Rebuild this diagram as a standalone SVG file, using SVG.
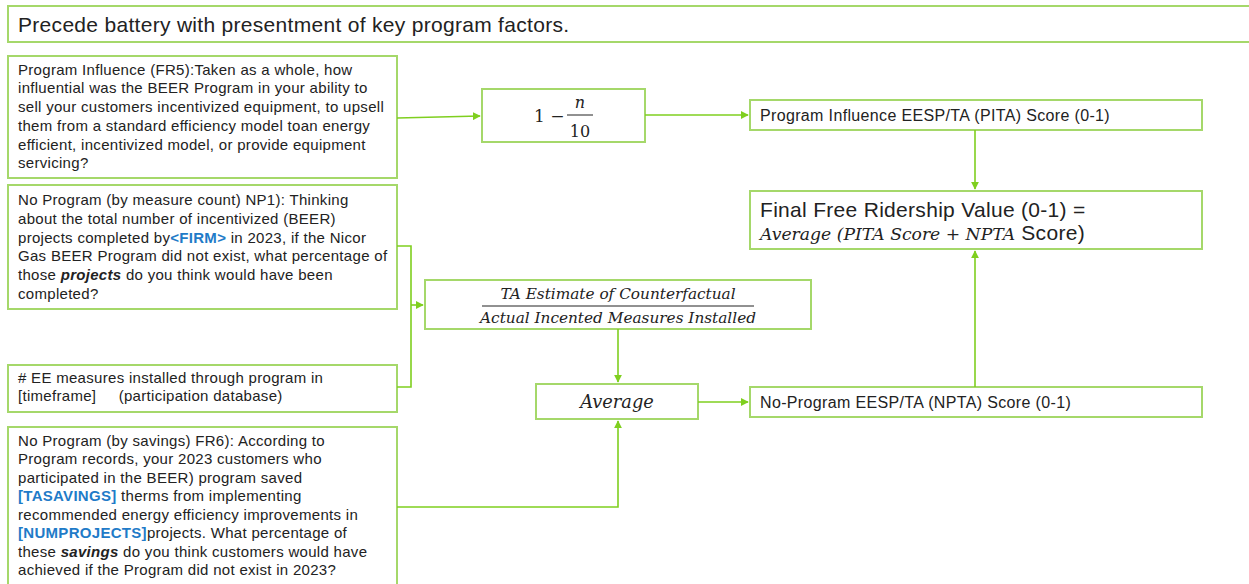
<svg xmlns="http://www.w3.org/2000/svg" width="1249" height="584" viewBox="0 0 1249 584">
<style>
.box{fill:#fff;stroke:#a5d86a;stroke-width:2}
.t{font-family:"Liberation Sans",Arial,sans-serif;font-size:15px;letter-spacing:0.3px;fill:#222}
.s{font-family:"Liberation Sans",Arial,sans-serif;font-size:16px;letter-spacing:0.35px;fill:#222}
.big{font-family:"Liberation Sans",Arial,sans-serif;font-size:21px;letter-spacing:0.3px;fill:#222}
.m{font-family:"DejaVu Serif","Liberation Serif",serif;font-style:italic;fill:#222}
.mu{font-family:"DejaVu Serif","Liberation Serif",serif;fill:#222}
.ph{fill:#1f7bc8;font-weight:bold}
.c{fill:none;stroke:#7fcf1f;stroke-width:1.6}
</style>
<defs>
<marker id="ah" viewBox="0 0 10 10" refX="9" refY="5" markerWidth="5" markerHeight="5" orient="auto" markerUnits="strokeWidth">
<path d="M0,0 L10,5 L0,10 z" fill="#7fcf1f"/>
</marker>
</defs>
<rect width="1249" height="584" fill="#fff"/>

<g id="title">
<rect class="box" x="8" y="6" width="1250" height="36"/>
<text class="big" x="18" y="32">Precede battery with presentment of key program factors.</text>
</g>

<g id="q-fr5">
<rect class="box" x="8" y="56" width="389" height="122"/>
<text class="t" x="18" y="75">Program Influence (FR5):Taken as a whole, how</text>
<text class="t" x="18" y="93">influential was the BEER Program in your ability to</text>
<text class="t" x="18" y="112">sell your customers incentivized equipment, to upsell</text>
<text class="t" x="18" y="131">them from a standard efficiency model toan energy</text>
<text class="t" x="18" y="150">efficient, incentivized model, or provide equipment</text>
<text class="t" x="18" y="168">servicing?</text>
</g>

<g id="q-np1">
<rect class="box" x="8" y="185" width="389" height="124"/>
<text class="t" x="18" y="205">No Program (by measure count) NP1): Thinking</text>
<text class="t" x="18" y="224">about the total number of incentivized (BEER)</text>
<text class="t" x="18" y="243">projects completed by<tspan class="ph">&lt;FIRM&gt;</tspan> in 2023, if the Nicor</text>
<text class="t" x="18" y="261">Gas BEER Program did not exist, what percentage of</text>
<text class="t" x="18" y="280">those <tspan font-weight="bold" font-style="italic">projects</tspan> do you think would have been</text>
<text class="t" x="18" y="299">completed?</text>
</g>

<g id="ee-measures">
<rect class="box" x="8" y="365" width="389" height="47"/>
<text class="t" x="18" y="383"># EE measures installed through program in</text>
<text class="t" x="18" y="401" xml:space="preserve">[timeframe]     (participation database)</text>
</g>

<g id="q-fr6">
<rect class="box" x="8" y="427" width="389" height="165"/>
<text class="t" x="18" y="446">No Program (by savings) FR6): According to</text>
<text class="t" x="18" y="464">Program records, your 2023 customers who</text>
<text class="t" x="18" y="483">participated in the BEER) program saved</text>
<text class="t" x="18" y="501"><tspan class="ph">[TASAVINGS]</tspan> therms from implementing</text>
<text class="t" x="18" y="520">recommended energy efficiency improvements in</text>
<text class="t" x="18" y="538"><tspan class="ph">[NUMPROJECTS]</tspan>projects. What percentage of</text>
<text class="t" x="18" y="557">these <tspan font-weight="bold" font-style="italic">savings</tspan> do you think customers would have</text>
<text class="t" x="18" y="575">achieved if the Program did not exist in 2023?</text>
</g>

<g id="formula-pi">
<rect class="box" x="482" y="89" width="163" height="53"/>
<text class="mu" x="534" y="122" font-size="17">1 −</text>
<text class="m" x="580" y="108" font-size="16" text-anchor="middle">n</text>
<line x1="567" y1="115" x2="593" y2="115" stroke="#222" stroke-width="1"/>
<text class="mu" x="580" y="137" font-size="16" text-anchor="middle">10</text>
</g>

<g id="pita">
<rect class="box" x="750" y="100" width="452" height="30"/>
<text class="s" x="760" y="121">Program Influence EESP/TA (PITA) Score (0-1)</text>
</g>

<g id="final">
<rect class="box" x="750" y="191" width="452" height="58"/>
<text class="big" x="760" y="217" font-size="19" letter-spacing="0">Final Free Ridership Value (0-1) =</text>
<text x="760" y="240"><tspan class="m" font-size="17.2">Average (PITA Score + NPTA</tspan><tspan class="big" font-size="19" letter-spacing="0"> Score)</tspan></text>
</g>

<g id="ta-ratio">
<rect class="box" x="425" y="280" width="386" height="49"/>
<text class="m" x="618" y="299" font-size="15.3" text-anchor="middle">TA Estimate of Counterfactual</text>
<line x1="482" y1="306" x2="754" y2="306" stroke="#222" stroke-width="1"/>
<text class="m" x="618" y="323" font-size="15.3" text-anchor="middle">Actual Incented Measures Installed</text>
</g>

<g id="average">
<rect class="box" x="536" y="384" width="162" height="35"/>
<text class="m" x="617" y="408" font-size="17.8" text-anchor="middle">Average</text>
</g>

<g id="npta">
<rect class="box" x="750" y="387" width="452" height="30"/>
<text class="s" x="760" y="408">No-Program EESP/TA (NPTA) Score (0-1)</text>
</g>

<g id="connectors">
<path class="c" d="M397,118 L480,116" marker-end="url(#ah)"/>
<path class="c" d="M645,115 L748,115" marker-end="url(#ah)"/>
<path class="c" d="M975,130 L975,189" marker-end="url(#ah)"/>
<path class="c" d="M975,387 L975,251" marker-end="url(#ah)"/>
<path class="c" d="M397,246 L411,246 L411,387 L397,387"/>
<path class="c" d="M411,305 L423,305" marker-end="url(#ah)"/>
<path class="c" d="M618,329 L618,382" marker-end="url(#ah)"/>
<path class="c" d="M397,507 L618,507 L618,421" marker-end="url(#ah)"/>
<path class="c" d="M698,402 L748,402" marker-end="url(#ah)"/>
</g>
</svg>
